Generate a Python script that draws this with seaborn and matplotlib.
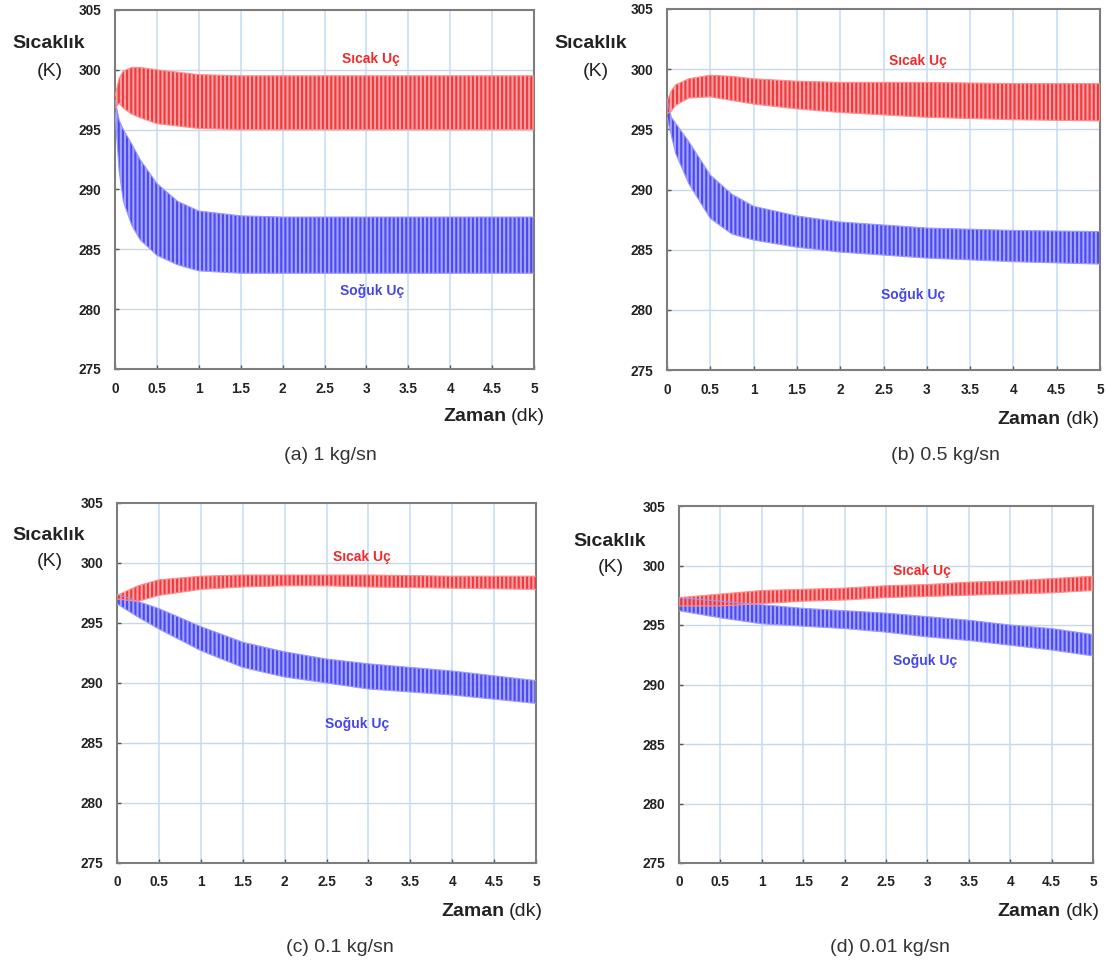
import numpy as np
import pandas as pd
import matplotlib
matplotlib.use("Agg")
import matplotlib.pyplot as plt
import seaborn as sns

# ---------------- data (envelopes of the oscillating temperature bands) ----------------
x_ticks = [0, 0.5, 1, 1.5, 2, 2.5, 3, 3.5, 4, 4.5, 5]
x_tick_labels = ['0', '0.5', '1', '1.5', '2', '2.5', '3', '3.5', '4', '4.5', '5']
y_ticks = [275, 280, 285, 290, 295, 300, 305]
y_tick_labels = ['275', '280', '285', '290', '295', '300', '305']

captions = ['(a) 1 kg/sn', '(b) 0.5 kg/sn', '(c) 0.1 kg/sn', '(d) 0.01 kg/sn']
hot_label = 'Sıcak Uç'
cold_label = 'Soğuk Uç'

# (a) 1 kg/sn
t_a = [0, 0.05, 0.1, 0.2, 0.3, 0.5, 0.75, 1, 1.5, 2, 3, 4, 5]
hot_hi_a = [297.8, 299.3, 299.9, 300.2, 300.2, 300.0, 299.8, 299.6, 299.5, 299.5, 299.5, 299.5, 299.5]
hot_lo_a = [296.8, 297.2, 296.8, 296.3, 296.0, 295.5, 295.3, 295.1, 295.0, 295.0, 295.0, 295.0, 295.0]
cold_hi_a = [297.5, 295.8, 295.0, 293.8, 292.5, 290.5, 289.0, 288.2, 287.8, 287.7, 287.7, 287.7, 287.7]
cold_lo_a = [296.5, 291.5, 289.0, 287.0, 285.8, 284.5, 283.7, 283.2, 283.0, 283.0, 283.0, 283.0, 283.0]

# (b) 0.5 kg/sn
t_b = [0, 0.05, 0.1, 0.25, 0.5, 0.75, 1, 1.5, 2, 3, 4, 5]
hot_hi_b = [297.3, 298.2, 298.7, 299.2, 299.5, 299.4, 299.2, 299.0, 298.9, 298.9, 298.8, 298.8]
hot_lo_b = [296.3, 296.5, 297.0, 297.6, 297.7, 297.4, 297.1, 296.7, 296.4, 296.0, 295.8, 295.7]
cold_hi_b = [297.5, 296.0, 295.5, 294.0, 291.2, 289.6, 288.6, 287.8, 287.3, 286.8, 286.6, 286.5]
cold_lo_b = [296.0, 294.5, 293.0, 290.5, 287.6, 286.3, 285.8, 285.2, 284.8, 284.3, 284.0, 283.8]

# (c) 0.1 kg/sn
t_c = [0, 0.25, 0.5, 1, 1.5, 2, 2.5, 3, 4, 5]
hot_hi_c = [297.3, 298.1, 298.6, 298.9, 299.0, 299.0, 299.0, 299.0, 298.9, 298.9]
hot_lo_c = [297.0, 296.8, 297.3, 297.8, 298.0, 298.1, 298.1, 298.0, 297.9, 297.8]
cold_hi_c = [297.4, 296.8, 296.2, 294.7, 293.4, 292.6, 292.0, 291.6, 291.0, 290.2]
cold_lo_c = [296.6, 295.5, 294.5, 292.7, 291.3, 290.5, 290.0, 289.5, 289.0, 288.3]

# (d) 0.01 kg/sn
t_d = [0, 0.5, 1, 1.5, 2, 2.5, 3, 3.5, 4, 4.5, 5]
hot_hi_d = [297.3, 297.6, 297.9, 298.0, 298.1, 298.3, 298.4, 298.6, 298.7, 298.9, 299.1]
hot_lo_d = [296.6, 296.6, 296.8, 297.0, 297.1, 297.3, 297.4, 297.5, 297.6, 297.7, 297.9]
cold_hi_d = [297.3, 297.0, 296.7, 296.4, 296.2, 296.0, 295.7, 295.4, 295.0, 294.7, 294.2]
cold_lo_d = [296.2, 295.6, 295.1, 294.9, 294.7, 294.4, 294.0, 293.7, 293.3, 292.9, 292.4]

# ---------------- style ----------------
sns.set_theme(style="white")
plt.rcParams['font.family'] = ['Liberation Sans', 'DejaVu Sans']
plt.rcParams['hatch.linewidth'] = 1.5

W, H = 1108, 976
fig = plt.figure(figsize=(W / 100, H / 100), dpi=100)
fig.patch.set_facecolor('white')


def fx(x):
    return x / W


def fy(y):
    return 1 - y / H


HOT_FACE, HOT_LINE, HOT_TEXT = '#ff8e8e', '#e62a30', '#f02a2a'
COLD_FACE, COLD_LINE, COLD_TEXT = '#9a9aff', '#4040ee', '#4646e6'

layout = [
    dict(rect=(115, 10, 534, 369), syl=(49, 43), kyl=(50, 72), zam=(545, 415), cap=(330, 455),
         hot_pos=(3.05, 300.9), cold_pos=(3.07, 281.5),
         t=t_a, hh=hot_hi_a, hl=hot_lo_a, ch=cold_hi_a, cl=cold_lo_a),
    dict(rect=(667, 9, 1100, 370), syl=(591, 43), kyl=(596, 72), zam=(1100, 417), cap=(945, 455),
         hot_pos=(2.9, 300.7), cold_pos=(2.84, 281.2),
         t=t_b, hh=hot_hi_b, hl=hot_lo_b, ch=cold_hi_b, cl=cold_lo_b),
    dict(rect=(117, 503, 536, 863), syl=(49, 535), kyl=(50, 562), zam=(543, 909), cap=(340, 947),
         hot_pos=(2.92, 300.5), cold_pos=(2.86, 286.6),
         t=t_c, hh=hot_hi_c, hl=hot_lo_c, ch=cold_hi_c, cl=cold_lo_c),
    dict(rect=(679, 506, 1093, 863), syl=(610, 541), kyl=(611, 568), zam=(1100, 909), cap=(890, 947),
         hot_pos=(2.93, 299.5), cold_pos=(2.97, 292.0),
         t=t_d, hh=hot_hi_d, hl=hot_lo_d, ch=cold_hi_d, cl=cold_lo_d),
]

renderer = fig.canvas.get_renderer()

for i, p in enumerate(layout):
    l, t, r, b = p['rect']
    ax = fig.add_axes([fx(l), fy(b), (r - l) / W, (b - t) / H])
    ax.set_facecolor('white')
    ax.set_xlim(0, 5)
    ax.set_ylim(275, 305)

    # grid
    for xv in x_ticks[1:-1]:
        ax.axvline(xv, color='#c4dcf2', lw=1.1, zorder=0)
    for yv in y_ticks[1:-1]:
        ax.axhline(yv, color='#c9d7e6', lw=1.0, zorder=0)

    tt = np.array(p['t'])
    # cold band, then hot band (hatched to mimic the dense oscillation)
    ax.fill_between(tt, p['cl'], p['ch'], facecolor=COLD_FACE, edgecolor=COLD_LINE,
                    hatch='||||', lw=0, alpha=0.9, zorder=2)
    ax.fill_between(tt, p['hl'], p['hh'], facecolor=HOT_FACE, edgecolor=HOT_LINE,
                    hatch='||||', lw=0, alpha=0.85, zorder=3)

    df = pd.concat([
        pd.DataFrame({'time': tt, 'temp': p['ch'], 'curve': 'cold_hi'}),
        pd.DataFrame({'time': tt, 'temp': p['cl'], 'curve': 'cold_lo'}),
        pd.DataFrame({'time': tt, 'temp': p['hh'], 'curve': 'hot_hi'}),
        pd.DataFrame({'time': tt, 'temp': p['hl'], 'curve': 'hot_lo'}),
    ])
    sns.lineplot(data=df, x='time', y='temp', hue='curve',
                 palette={'cold_hi': COLD_FACE, 'cold_lo': COLD_FACE,
                          'hot_hi': HOT_FACE, 'hot_lo': HOT_FACE},
                 estimator=None, sort=False, legend=False, lw=0.8, ax=ax, zorder=4)

    ax.set_xlabel('')
    ax.set_ylabel('')
    ax.set_xticks(x_ticks)
    ax.set_xticklabels(x_tick_labels, fontweight='bold', fontsize=9.8, color='#222222')
    ax.set_yticks(y_ticks)
    ax.set_yticklabels(y_tick_labels, fontweight='bold', fontsize=9.8, color='#222222')
    ax.tick_params(axis='both', direction='in', length=3, width=1, color='#555555')
    ax.tick_params(axis='x', pad=9, bottom=True)
    ax.tick_params(axis='y', pad=10, left=True)
    for sp in ax.spines.values():
        sp.set_color('#7d7d7d')
        sp.set_linewidth(1.5)
    ax.grid(False)

    # series labels
    ax.text(p['hot_pos'][0], p['hot_pos'][1], hot_label, color=HOT_TEXT, fontsize=10,
            fontweight='bold', ha='center', va='center', zorder=6)
    ax.text(p['cold_pos'][0], p['cold_pos'][1], cold_label, color=COLD_TEXT, fontsize=10,
            fontweight='bold', ha='center', va='center', zorder=6)

    # y axis label
    fig.text(fx(p['syl'][0]), fy(p['syl'][1]), 'Sıcaklık', fontsize=14, fontweight='bold',
             ha='center', va='center', color='#222222')
    fig.text(fx(p['kyl'][0]), fy(p['kyl'][1]), '(K)', fontsize=14,
             ha='center', va='center', color='#222222')

    # x axis label: bold "Zaman" + normal "(dk)"
    zx, zy = p['zam']
    dk = fig.text(fx(zx), fy(zy), '(dk)', fontsize=14, ha='right', va='center_baseline',
                  color='#222222')
    wdk = dk.get_window_extent(renderer).width
    fig.text(fx(zx - wdk - 5), fy(zy), 'Zaman', fontsize=14, fontweight='bold',
             ha='right', va='center_baseline', color='#222222')

    # caption
    fig.text(fx(p['cap'][0]), fy(p['cap'][1]), captions[i], fontsize=14,
             ha='center', va='center', color='#333333')

fig.savefig('out.png', dpi=100, facecolor='white')
